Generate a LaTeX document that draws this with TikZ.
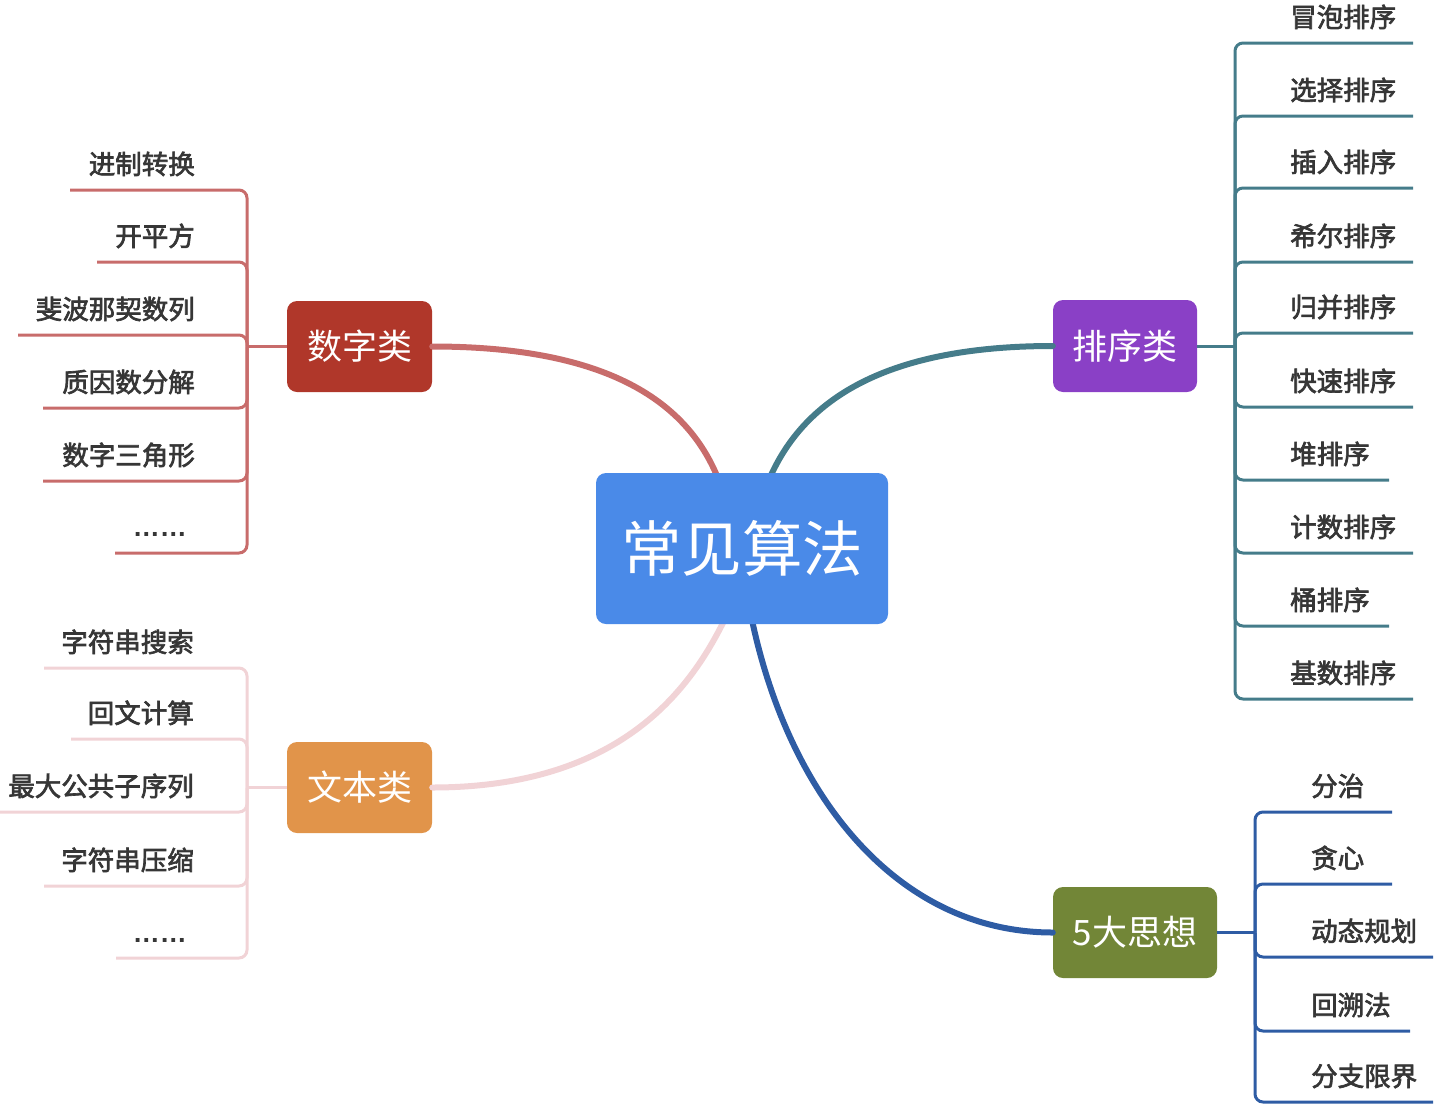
\documentclass[tikz,border=0pt]{standalone}
\usepackage{fontspec}
\setmainfont{Noto Sans CJK SC}
\newfontfamily\lblfont[FakeBold=2.5]{Noto Sans CJK SC}
\newfontfamily\latinf{Liberation Sans}
\definecolor{mainc}{HTML}{4A8AE8}
\definecolor{numbox}{HTML}{B0372A}
\definecolor{txtbox}{HTML}{E1944A}
\definecolor{sortbox}{HTML}{8A40C6}
\definecolor{ideabox}{HTML}{728637}
\definecolor{numln}{HTML}{C86C6B}
\definecolor{txtln}{HTML}{F1D3D6}
\definecolor{sortln}{HTML}{457C8A}
\definecolor{idealn}{HTML}{2E5CA4}
\definecolor{lblgray}{HTML}{363636}
\begin{document}
\begin{tikzpicture}[x=1pt,y=-1pt,
  topicbox/.style={rounded corners=10pt, inner sep=0pt, text=white, font=\fontsize{35}{40}\selectfont},
  lbl/.style={text=lblgray, inner sep=0pt, font=\fontsize{26.5}{30}\lblfont},
  dots/.style={text=lblgray, inner sep=0pt, font=\fontsize{27}{30}\latinf\bfseries},
  bracket/.style={line width=3pt, rounded corners=8pt},
  curve/.style={line width=6pt, line cap=round}]
\useasboundingbox (0,0) rectangle (1440,1114);

% topic boxes
\node[topicbox, fill=numbox, minimum width=145pt, minimum height=91pt] (num) at (359.5,346.5) {数字类};
\node[topicbox, fill=txtbox, minimum width=145pt, minimum height=91pt] (txt) at (359.5,787.5) {文本类};
\node[topicbox, fill=sortbox, minimum width=144pt, minimum height=92pt] (sort) at (1125,346) {排序类};
\node[topicbox, fill=ideabox, minimum width=164pt, minimum height=91pt] (idea) at (1135,932.5) {5大思想};

% main curves
\path (742,548.5) coordinate (mc);
\node[minimum width=292pt, minimum height=151pt, inner sep=0pt] (mainpos) at (mc) {};
\draw[curve, numln] (num.east) .. controls (620,346.5) and (690,410) .. ([xshift=122pt,yshift=-5pt]mainpos.north west);
\draw[curve, sortln] (sort.west) .. controls (870,346) and (800,410) .. ([xshift=174pt,yshift=-5pt]mainpos.north west);
\draw[curve, txtln] (txt.east) .. controls (620,787.5) and (690,690) .. ([xshift=129pt,yshift=5pt]mainpos.south west);
\draw[curve, idealn] (idea.west) .. controls (900,932.5) and (790,800) .. ([xshift=156pt,yshift=5pt]mainpos.south west);

% central box
\node[rounded corners=10pt, fill=mainc, text=white, inner sep=0pt, minimum width=292pt, minimum height=151pt,
  font=\fontsize{60.5}{66}\selectfont] (main) at (mc) {常见算法};

% ---------- 数字类 ----------
\coordinate (jA) at (247,346.5);
\draw[bracket, numln] (num.west) -- (jA);
\foreach \y/\x in {190/70, 262/97, 335/18, 408/43, 481/43, 553/115}{
  \coordinate (a\y) at (\x,\y);
  \draw[bracket, numln] (jA) |- (a\y);
}
\node[lbl, anchor=base east] (a1) at (195,174) {进制转换};
\node[lbl, anchor=base east] (a2) at (195,246) {开平方};
\node[lbl, anchor=base east] (a3) at (195,319) {斐波那契数列};
\node[lbl, anchor=base east] (a4) at (195,392) {质因数分解};
\node[lbl, anchor=base east] (a5) at (195,465) {数字三角形};
\node[dots, anchor=base east] (a6) at (187,536) {……};

% ---------- 文本类 ----------
\coordinate (jB) at (247,787.5);
\draw[bracket, txtln] (txt.west) -- (jB);
\foreach \y/\x in {668/44, 739/71, 812/0, 886/44, 958/116}{
  \coordinate (b\y) at (\x,\y);
  \draw[bracket, txtln] (jB) |- (b\y);
}
\node[lbl, anchor=base east] (b1) at (194,652) {字符串搜索};
\node[lbl, anchor=base east] (b2) at (194,723) {回文计算};
\node[lbl, anchor=base east] (b3) at (194,796) {最大公共子序列};
\node[lbl, anchor=base east] (b4) at (194,870) {字符串压缩};
\node[dots, anchor=base east] (b5) at (187,942) {……};

% ---------- 排序类 ----------
\coordinate (jC) at (1235,346);
\draw[bracket, sortln] (sort.east) -- (jC);
\foreach \y/\x in {43/1413, 116/1413, 188/1413, 262/1413, 333/1413, 407/1413, 480/1389, 553/1413, 626/1389, 699/1413}{
  \coordinate (c\y) at (\x,\y);
  \draw[bracket, sortln] (jC) |- (c\y);
}
\node[lbl, anchor=base west] (c1) at (1290,27) {冒泡排序};
\node[lbl, anchor=base west] (c2) at (1290,100) {选择排序};
\node[lbl, anchor=base west] (c3) at (1290,172) {插入排序};
\node[lbl, anchor=base west] (c4) at (1290,246) {希尔排序};
\node[lbl, anchor=base west] (c5) at (1290,317) {归并排序};
\node[lbl, anchor=base west] (c6) at (1290,391) {快速排序};
\node[lbl, anchor=base west] (c7) at (1290,464) {堆排序};
\node[lbl, anchor=base west] (c8) at (1290,537) {计数排序};
\node[lbl, anchor=base west] (c9) at (1290,610) {桶排序};
\node[lbl, anchor=base west] (c10) at (1290,683) {基数排序};

% ---------- 5大思想 ----------
\coordinate (jD) at (1255,932.5);
\draw[bracket, idealn] (idea.east) -- (jD);
\foreach \y/\x in {812/1392, 884/1392, 957/1433, 1031/1410, 1102/1433}{
  \coordinate (d\y) at (\x,\y);
  \draw[bracket, idealn] (jD) |- (d\y);
}
\node[lbl, anchor=base west] (d1) at (1311,796) {分治};
\node[lbl, anchor=base west] (d2) at (1311,868) {贪心};
\node[lbl, anchor=base west] (d3) at (1311,941) {动态规划};
\node[lbl, anchor=base west] (d4) at (1311,1015) {回溯法};
\node[lbl, anchor=base west] (d5) at (1311,1086) {分支限界};
\end{tikzpicture}
\end{document}
